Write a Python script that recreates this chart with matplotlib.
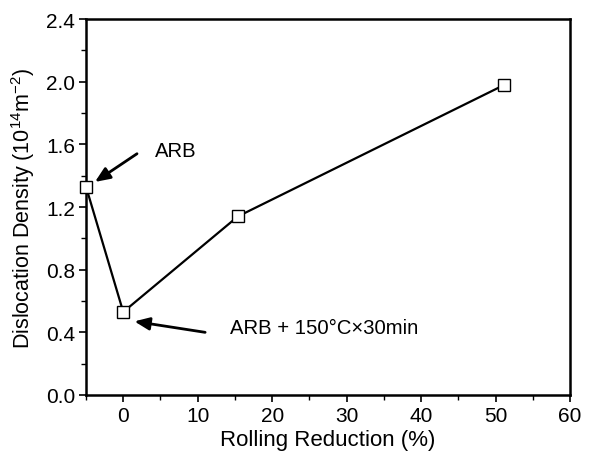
import matplotlib
matplotlib.use('Agg')
import matplotlib.pyplot as plt
from matplotlib.ticker import MultipleLocator

plt.rcParams['font.family'] = ['Liberation Sans', 'DejaVu Sans']
plt.rcParams['mathtext.fontset'] = 'custom'
plt.rcParams['mathtext.rm'] = 'Liberation Sans'
plt.rcParams['mathtext.it'] = 'Liberation Sans'

# данные
reduction = [-5, 0, 15.4, 51.2]
density = [1.33, 0.53, 1.14, 1.98]
x_ticks = [0, 10, 20, 30, 40, 50, 60]
y_ticks = [0.0, 0.4, 0.8, 1.2, 1.6, 2.0, 2.4]

fig = plt.figure(figsize=(5.94, 4.60), dpi=100)
ax = fig.add_axes([86 / 594, 1 - 396 / 460, 484 / 594, 376 / 460])

ax.plot(reduction, density, color='black', linewidth=1.6, marker='s', markersize=9,
        markerfacecolor='white', markeredgecolor='black', markeredgewidth=1.0, clip_on=False, zorder=3)

ax.set_xlim(-5, 60)
ax.set_ylim(0, 2.4)
ax.set_xticks(x_ticks)
ax.set_yticks(y_ticks)
ax.set_yticklabels(['%.1f' % v for v in y_ticks])
ax.xaxis.set_minor_locator(MultipleLocator(5))
ax.yaxis.set_minor_locator(MultipleLocator(0.2))
ax.tick_params(which='major', direction='out', length=5, width=1.2, labelsize=15, colors='black', pad=3)
ax.tick_params(which='minor', direction='out', length=3.5, width=1.0)
for s in ax.spines.values():
    s.set_linewidth(1.8)

ax.set_xlabel('Rolling Reduction (%)', fontsize=16, labelpad=3)
ax.set_ylabel('Dislocation Density (10$^{14}$m$^{-2}$)', fontsize=15.5, labelpad=6)

# подписи со стрелками
arrow = dict(arrowstyle='-|>,head_length=0.9,head_width=0.38', color='black', lw=2.0, shrinkA=0, shrinkB=0)
ax.annotate('', xy=(-3.8, 1.36), xytext=(1.85, 1.54), arrowprops=arrow)
ax.text(4.2, 1.56, 'ARB', fontsize=14.6, ha='left', va='center')
ax.annotate('', xy=(1.5, 0.47), xytext=(11.0, 0.40), arrowprops=arrow)
ax.text(14.3, 0.43, 'ARB + 150°C×30min', fontsize=14.6, ha='left', va='center')

fig.savefig('out.png', dpi=100)
